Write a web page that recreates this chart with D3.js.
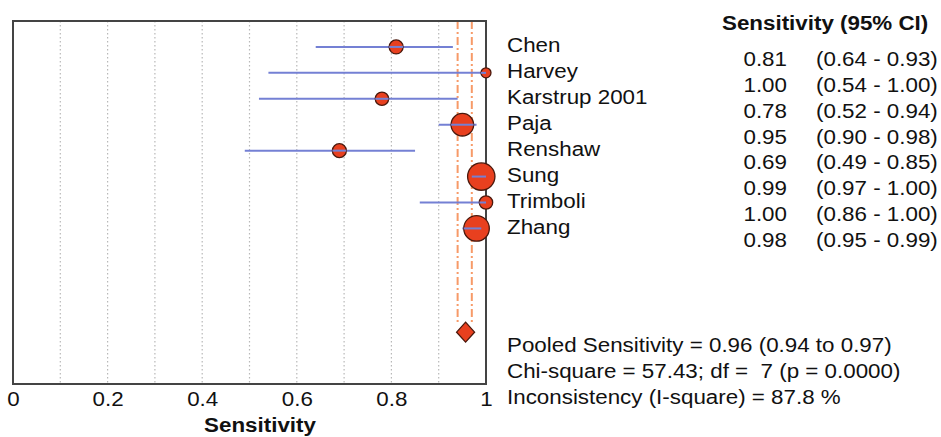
<!DOCTYPE html>
<meta charset="utf-8">
<style>
  body { margin: 0; background: #fff; }
  svg text { font-family: "Liberation Sans", Arial, sans-serif; fill: #111; }
  .grid line { stroke: #b8b8b8; stroke-width: 1.2px; stroke-dasharray: 1.5,2.5; }
  .ci { stroke: #7480d4; stroke-width: 2px; }
  .dot { fill: #e8401f; stroke: #4a180c; stroke-width: 1.3px; }
  .pool { stroke: #f79a68; stroke-width: 2px; stroke-dasharray: 8,3,2,3; fill: none; }
</style>
<body>
<script src="https://cdn.jsdelivr.net/npm/d3@7"></script>
<script>

  var studies = ["Chen", "Harvey", "Karstrup 2001", "Paja", "Renshaw", "Sung", "Trimboli", "Zhang"];
  var sens = [0.81, 1.00, 0.78, 0.95, 0.69, 0.99, 1.00, 0.98];
  var lower = [0.64, 0.54, 0.52, 0.90, 0.49, 0.97, 0.86, 0.95];
  var upper = [0.93, 1.00, 0.94, 0.98, 0.85, 1.00, 1.00, 0.99];
  // relative study weights (marker area)
  var weight = [49, 25, 45, 128, 49, 188, 45, 164];
  var pooled = {est: 0.96, lo: 0.94, hi: 0.97};
  var xTicks = [0, 0.2, 0.4, 0.6, 0.8, 1];
  var gridVals = [0.1, 0.2, 0.3, 0.4, 0.5, 0.6, 0.7, 0.8, 0.9];
  var footer = [
    "Pooled Sensitivity = 0.96 (0.94 to 0.97)",
    "Chi-square = 57.43; df =  7 (p = 0.0000)",
    "Inconsistency (I-square) = 87.8 %"
  ];

  var width = 941, height = 437;
  var svg = d3.select("body").append("svg")
    .attr("width", width)
    .attr("height", height);

  var x = d3.scaleLinear().domain([0, 1]).range([13, 486]);
  // row index -> vertical position; pooled row sits at index 11
  var y = d3.scaleLinear().domain([-1, 13]).range([21, 384]);
  var r = d3.scaleSqrt().domain([0, 200]).range([0, 14.1]);
  var fs = 21;
  var sx = 1.065; // the source text is a little wide

  function place(sel, fx, fy) {
    sel.attr("transform", function(d, i) {
      return "translate(" + fx(d, i) + "," + fy(d, i) + ") scale(" + sx + ",1)";
    })
      .attr("dy", "0.35em")
      .attr("font-size", fs);
  }

  // Grid.
  svg.append("g")
    .attr("class", "grid")
    .selectAll("line")
    .data(gridVals)
    .enter().append("line")
    .attr("x1", x).attr("x2", x)
    .attr("y1", y(-1)).attr("y2", y(13));

  // Pooled CI reference lines.
  svg.selectAll(".pool")
    .data([pooled.lo, pooled.hi])
    .enter().append("line")
    .attr("class", "pool")
    .attr("x1", x).attr("x2", x)
    .attr("y1", y(-1)).attr("y2", y(11) - 9);

  // Frame.
  svg.append("rect")
    .attr("x", x(0)).attr("y", y(-1))
    .attr("width", x(1) - x(0)).attr("height", y(13) - y(-1))
    .attr("fill", "none")
    .attr("stroke", "#444")
    .attr("stroke-width", 2);

  // Bottom axis labels.
  var ax = svg.append("g")
    .attr("transform", "translate(0," + y(13) + ")")
    .call(d3.axisBottom(x).tickValues(xTicks).tickSize(0).tickPadding(7)
      .tickFormat(function(d) { return d === 0 || d === 1 ? d : d.toFixed(1); }));
  ax.select(".domain").remove();
  ax.selectAll("text")
    .attr("font-size", fs)
    .attr("font-family", "Liberation Sans, Arial, sans-serif")
    .attr("fill", "#111")
    .attr("transform", "scale(" + sx + ",1)");

  svg.append("text")
    .attr("text-anchor", "middle")
    .attr("font-weight", "bold")
    .text("Sensitivity")
    .call(place, function() { return 260; }, function() { return 425; });

  // CI lines.
  svg.selectAll(".ci")
    .data(studies)
    .enter().append("line")
    .attr("class", "ci")
    .attr("x1", function(d, i) { return x(lower[i]); })
    .attr("x2", function(d, i) { return x(upper[i]); })
    .attr("y1", function(d, i) { return y(i); })
    .attr("y2", function(d, i) { return y(i); });

  // Study markers.
  svg.selectAll(".dot")
    .data(studies)
    .enter().append("circle")
    .attr("class", "dot")
    .attr("cx", function(d, i) { return x(sens[i]); })
    .attr("cy", function(d, i) { return y(i); })
    .attr("r", function(d, i) { return r(weight[i]); });

  // CI lines drawn over the big markers too.
  svg.selectAll(".ci2")
    .data(studies)
    .enter().append("line")
    .attr("class", "ci")
    .attr("x1", function(d, i) { return Math.max(x(lower[i]), x(sens[i]) - r(weight[i])); })
    .attr("x2", function(d, i) { return Math.min(x(upper[i]), x(sens[i]) + r(weight[i])); })
    .attr("y1", function(d, i) { return y(i); })
    .attr("y2", function(d, i) { return y(i); });

  // Pooled diamond.
  var px = x(pooled.est) - 1.5, py = y(11);
  svg.append("path")
    .attr("class", "dot")
    .attr("d", "M" + px + "," + (py - 10) + "L" + (px + 9) + "," + py +
      "L" + px + "," + (py + 10) + "L" + (px - 9) + "," + py + "Z");

  // Study names.
  svg.selectAll(".name")
    .data(studies)
    .enter().append("text")
    .attr("class", "name")
    .text(function(d) { return d; })
    .call(place, function() { return 507; }, function(d, i) { return y(i) - 2; });

  // Right table.
  svg.append("text")
    .attr("font-weight", "bold")
    .text("Sensitivity (95% CI)")
    .call(place, function() { return 722; }, function() { return 23; });

  svg.selectAll(".val")
    .data(sens)
    .enter().append("text")
    .attr("text-anchor", "end")
    .text(function(d) { return d.toFixed(2); })
    .call(place, function() { return 787; }, function(d, i) { return y(i) + 11.5; });

  svg.selectAll(".cit")
    .data(sens)
    .enter().append("text")
    .text(function(d, i) { return "(" + lower[i].toFixed(2) + " - " + upper[i].toFixed(2) + ")"; })
    .call(place, function() { return 816; }, function(d, i) { return y(i) + 11.5; });

  // Summary lines.
  svg.selectAll(".foot")
    .data(footer)
    .enter().append("text")
    .style("white-space", "pre")
    .text(function(d) { return d; })
    .call(place, function() { return 507; }, function(d, i) { return y(11.5 + i); });

</script>
